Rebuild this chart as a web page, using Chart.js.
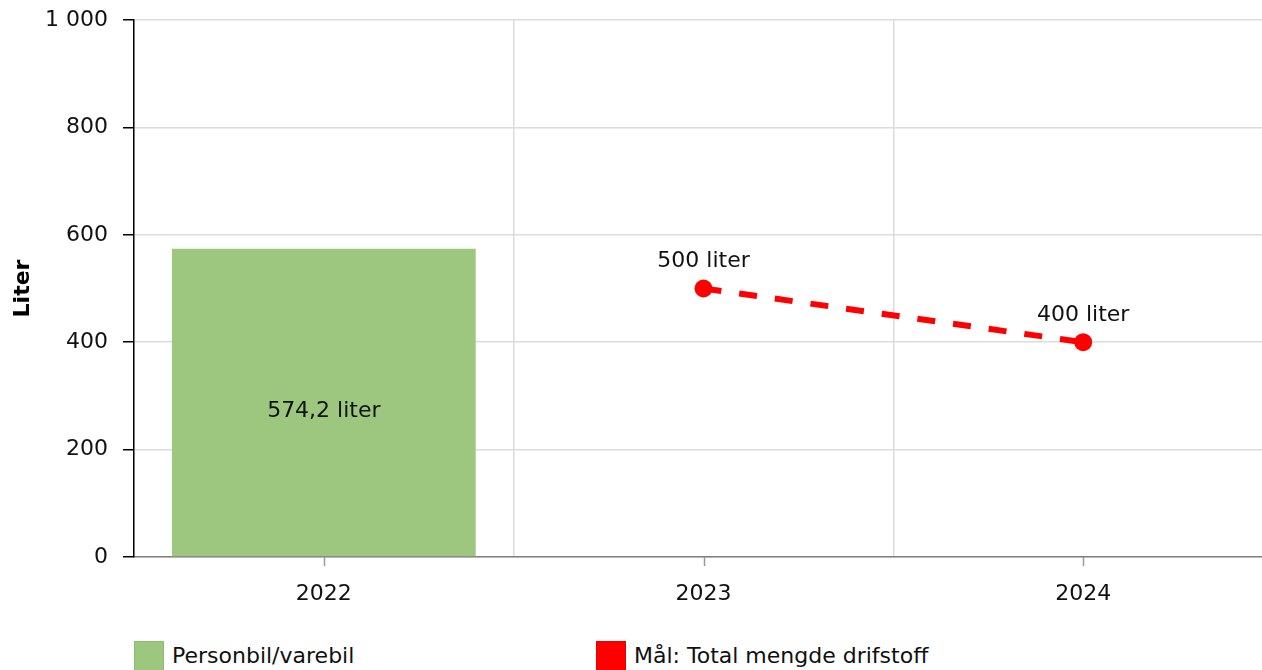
<!DOCTYPE html>
<html>
<head>
<meta charset="utf-8">
<script src="https://cdn.jsdelivr.net/npm/chart.js@4/dist/chart.umd.min.js"></script>
<style>
  html, body { margin: 0; padding: 0; background: #fff; overflow: hidden; }
  #wrap { position: relative; width: 1262px; height: 670px; overflow: hidden; }
  #chart { position: absolute; left: 0; top: 0; }
  .legend { position: absolute; top: 641px; font-family: "DejaVu Sans", Verdana, sans-serif; font-size: 22px; color: #111; white-space: nowrap; }
  .legend .box { position: absolute; left: 0; top: 0; width: 28px; height: 28px; }
  .legend .txt { position: absolute; left: 38px; top: 2px; }
</style>
</head>
<body>
<div id="wrap">
  <canvas id="chart" width="1290" height="640"></canvas>
  <div class="legend" style="left:134px"><span class="box" style="background:#9dc67f;border:1px solid #8cbd6c"></span><span class="txt">Personbil/varebil</span></div>
  <div class="legend" style="left:596px"><span class="box" style="background:#ff0000;border:1px solid #e60000"></span><span class="txt">Mål: Total mengde drifstoff</span></div>
</div>
<script>
"use strict";

const years = ["2022", "2023", "2024"];
const carValues = [574.2, null, null];
const goalValues = [null, 500, 400];
const tickValues = [0, 200, 400, 600, 800, 1000];

const fontFamily = '"DejaVu Sans", Verdana, sans-serif';
const fontSize = 22;

function spaceThousands(v) {
  return v.toString().replace(/\B(?=(\d{3})+(?!\d))/g, " ");
}

function literLabel(v) {
  return String(v).replace(".", ",") + " liter";
}

// labels on bar and points
const valueLabels = {
  id: "valueLabels",
  afterDatasetsDraw(chart) {
    const ctx = chart.ctx;
    ctx.save();
    ctx.font = fontSize + "px " + fontFamily;
    ctx.fillStyle = "#111";
    ctx.textAlign = "center";
    ctx.textBaseline = "middle";
    chart.data.datasets.forEach((ds, di) => {
      const meta = chart.getDatasetMeta(di);
      meta.data.forEach((el, i) => {
        const v = ds.data[i];
        if (v === null || v === undefined) return;
        if (ds.type === "line") {
          ctx.fillText(literLabel(v), el.x, el.y - 27);
        } else {
          ctx.fillText(literLabel(v), el.x, (el.y + el.base) / 2 + 9);
        }
      });
    });
    ctx.restore();
  },
};

// x tick marks at category centres
const xTickMarks = {
  id: "xTickMarks",
  afterDraw(chart) {
    const ctx = chart.ctx;
    const xs = chart.scales.x;
    ctx.save();
    ctx.strokeStyle = "#999";
    ctx.lineWidth = 1.5;
    for (let i = 0; i < years.length; i++) {
      const x = Math.round(xs.getPixelForValue(i)) + 0.5;
      ctx.beginPath();
      ctx.moveTo(x, xs.top);
      ctx.lineTo(x, xs.top + 9);
      ctx.stroke();
    }
    ctx.restore();
  },
};

const chartData = {
  labels: years,
  datasets: [
    {
      type: "line",
      label: "Mål: Total mengde drifstoff",
      data: goalValues,
      borderColor: "#ff0000",
      backgroundColor: "#ff0000",
      borderWidth: 6,
      borderDash: [18, 18],
      pointRadius: 9,
      pointBorderWidth: 0,
      pointBackgroundColor: "#ff0000",
      spanGaps: false,
      order: 0,
    },
    {
      type: "bar",
      label: "Personbil/varebil",
      data: carValues,
      backgroundColor: "#9dc67f",
      borderWidth: 0,
      barPercentage: 1,
      categoryPercentage: 0.8,
      order: 1,
    },
  ],
};

const chartConfig = {
  type: "bar",
  data: chartData,
  options: {
    responsive: false,
    animation: false,
    layout: { padding: { top: 20, right: 17, left: 0, bottom: 0 } },
    plugins: {
      legend: { display: false },
      tooltip: { enabled: false },
    },
    scales: {
      x: {
        offset: true,
        grid: { offset: true, color: "#dcdcdc", lineWidth: 1.5, drawTicks: false },
        border: { color: "#808080", width: 1.5 },
        ticks: { color: "#111", font: { family: fontFamily, size: fontSize }, padding: 24 },
        afterFit(scale) {
          scale.height = 83;
          scale.paddingLeft = 0;
          scale.paddingRight = 0;
        },
      },
      y: {
        min: 0,
        max: 1000,
        afterBuildTicks(scale) { scale.ticks = tickValues.map((v) => ({ value: v })); },
        grid: { color: "#dcdcdc", lineWidth: 1.5, tickColor: "#000", tickLength: 11 },
        border: { color: "#000", width: 1.5 },
        ticks: {
          color: "#111",
          font: { family: fontFamily, size: fontSize },
          padding: 15,
          callback: (v) => spaceThousands(v),
        },
        title: {
          display: true,
          text: "Liter",
          color: "#000",
          font: { family: fontFamily, size: fontSize, weight: "bold" },
          padding: { top: 10, bottom: 0 },
        },
        afterFit(scale) {
          scale.width = 134;
          scale.paddingTop = 0;
          scale.paddingBottom = 0;
        },
      },
    },
  },
  plugins: [valueLabels, xTickMarks],
};

const litreChart = new Chart(document.getElementById("chart"), chartConfig);
</script>
</body>
</html>
